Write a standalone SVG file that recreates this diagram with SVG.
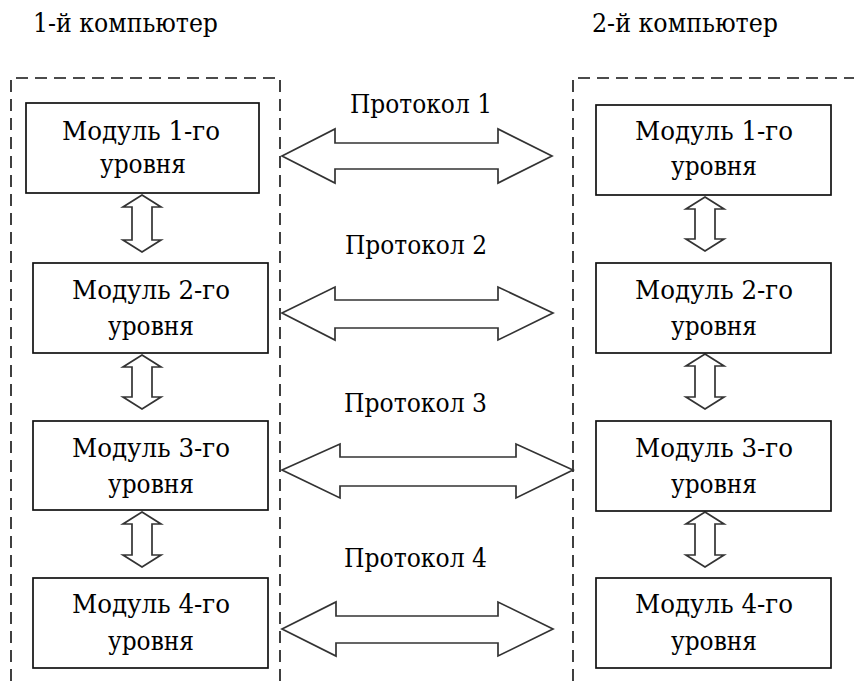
<svg xmlns="http://www.w3.org/2000/svg" width="854" height="688" viewBox="0 0 854 688">
<style>
text{font-family:"DejaVu Serif","Liberation Serif",serif;font-size:26px;fill:#000}
.c{text-anchor:middle}
.frame{fill:none;stroke:#111;stroke-width:1.6;stroke-dasharray:12 7}
.box{fill:#fff;stroke:#111;stroke-width:1.7}
.arr{fill:#fff;stroke:#333;stroke-width:1.7;stroke-linejoin:miter}
</style>
<rect width="854" height="688" fill="#fff"/>
<g id="titles">
<text x="33" y="32" textLength="185" lengthAdjust="spacingAndGlyphs">1-й компьютер</text>
<text x="592" y="32" textLength="186" lengthAdjust="spacingAndGlyphs">2-й компьютер</text>
</g>
<g id="computer1"><path class="frame" d="M11,700 V78 H280 V700"/></g>
<g id="computer2"><path class="frame" d="M573,700 V78 H870"/></g>
<g id="connectors">
<path class="arr" d="M142,195 L161,207 L152,207 L152,240 L161,240 L142,252 L123,240 L132,240 L132,207 L123,207 Z"/>
<path class="arr" d="M142,355 L161,367 L152,367 L152,397 L161,397 L142,409 L123,397 L132,397 L132,367 L123,367 Z"/>
<path class="arr" d="M142,512 L161,524 L152,524 L152,555 L161,555 L142,567 L123,555 L132,555 L132,524 L123,524 Z"/>
<path class="arr" d="M705,197 L724,209 L715,209 L715,239 L724,239 L705,251 L686,239 L695,239 L695,209 L686,209 Z"/>
<path class="arr" d="M705,354 L724,366 L715,366 L715,397 L724,397 L705,409 L686,397 L695,397 L695,366 L686,366 Z"/>
<path class="arr" d="M705,512 L724,524 L715,524 L715,555 L724,555 L705,567 L686,555 L695,555 L695,524 L686,524 Z"/>
<path class="arr" d="M282,156 L335,129 L335,143 L498,143 L498,129 L552,156 L498,183 L498,169 L335,169 L335,183 Z"/>
<path class="arr" d="M282,313 L335,287 L335,300 L498,300 L498,287 L553,313 L498,340 L498,328 L335,328 L335,340 Z"/>
<path class="arr" d="M282,470 L340,444 L340,457 L516,457 L516,444 L573,470 L516,498 L516,486 L340,486 L340,498 Z"/>
<path class="arr" d="M282,629 L336,602 L336,616 L498,616 L498,602 L553,629 L498,656 L498,643 L336,643 L336,656 Z"/>
</g>
<g id="protocols">
<text class="c" x="421" y="113" textLength="142" lengthAdjust="spacingAndGlyphs">Протокол 1</text>
<text class="c" x="416" y="254" textLength="142" lengthAdjust="spacingAndGlyphs">Протокол 2</text>
<text class="c" x="415.5" y="412" textLength="143" lengthAdjust="spacingAndGlyphs">Протокол 3</text>
<text class="c" x="415.5" y="567" textLength="143" lengthAdjust="spacingAndGlyphs">Протокол 4</text>
</g>
<g id="l1"><rect class="box" x="26" y="103" width="233" height="90"/>
<text class="c" x="141" y="140" textLength="158" lengthAdjust="spacingAndGlyphs">Модуль 1-го</text>
<text class="c" x="143" y="173" textLength="86" lengthAdjust="spacingAndGlyphs">уровня</text></g>
<g id="l2"><rect class="box" x="33" y="263" width="235" height="90"/>
<text class="c" x="151" y="299" textLength="158" lengthAdjust="spacingAndGlyphs">Модуль 2-го</text>
<text class="c" x="151" y="335" textLength="86" lengthAdjust="spacingAndGlyphs">уровня</text></g>
<g id="l3"><rect class="box" x="33" y="421" width="235" height="89"/>
<text class="c" x="151" y="457" textLength="158" lengthAdjust="spacingAndGlyphs">Модуль 3-го</text>
<text class="c" x="151" y="493" textLength="86" lengthAdjust="spacingAndGlyphs">уровня</text></g>
<g id="l4"><rect class="box" x="33" y="578" width="235" height="90"/>
<text class="c" x="151" y="613" textLength="158" lengthAdjust="spacingAndGlyphs">Модуль 4-го</text>
<text class="c" x="151" y="650" textLength="86" lengthAdjust="spacingAndGlyphs">уровня</text></g>
<g id="r1"><rect class="box" x="596" y="105" width="235" height="90"/>
<text class="c" x="714" y="140" textLength="158" lengthAdjust="spacingAndGlyphs">Модуль 1-го</text>
<text class="c" x="714" y="175" textLength="86" lengthAdjust="spacingAndGlyphs">уровня</text></g>
<g id="r2"><rect class="box" x="596" y="263" width="235" height="90"/>
<text class="c" x="714" y="299" textLength="158" lengthAdjust="spacingAndGlyphs">Модуль 2-го</text>
<text class="c" x="714" y="335" textLength="86" lengthAdjust="spacingAndGlyphs">уровня</text></g>
<g id="r3"><rect class="box" x="596" y="421" width="235" height="90"/>
<text class="c" x="714" y="457" textLength="158" lengthAdjust="spacingAndGlyphs">Модуль 3-го</text>
<text class="c" x="714" y="493" textLength="86" lengthAdjust="spacingAndGlyphs">уровня</text></g>
<g id="r4"><rect class="box" x="596" y="578" width="235" height="90"/>
<text class="c" x="714" y="613" textLength="158" lengthAdjust="spacingAndGlyphs">Модуль 4-го</text>
<text class="c" x="714" y="650" textLength="86" lengthAdjust="spacingAndGlyphs">уровня</text></g>
</svg>
